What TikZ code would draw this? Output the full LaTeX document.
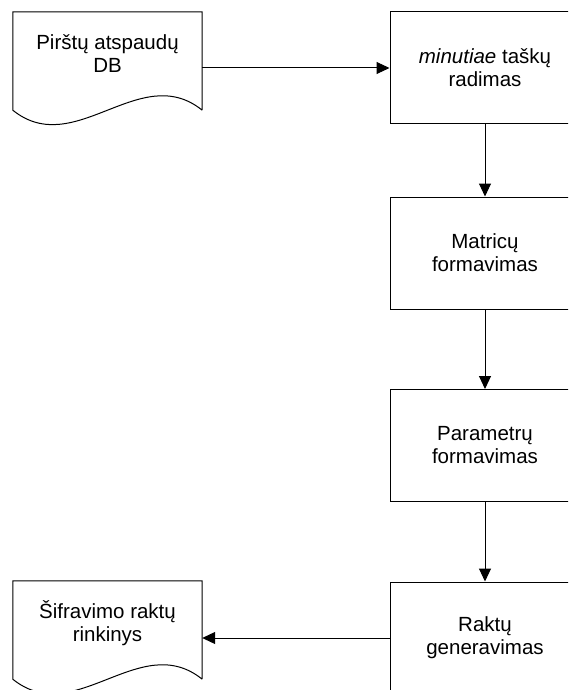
\documentclass[tikz,border=0pt]{standalone}
\usepackage{fontspec}
\setmainfont{Liberation Sans}
\usetikzlibrary{arrows.meta,calc}

\tikzset{
  every node/.style={font=\fontsize{20.5}{23}\selectfont, align=center},
  procbox/.style={draw=black, line width=1pt, minimum width=190pt, minimum height=112pt, inner sep=0pt},
  docbox/.style={minimum width=189pt, minimum height=84pt, inner sep=0pt},
  docline/.style={draw=black, line width=1pt, line join=miter},
  flow/.style={draw=black, line width=1pt, -{Triangle[length=13pt,width=12pt]}}
}

% document symbol: straight top and sides, wavy bottom edge
\newcommand\wavydoc[1]{%
  \draw[docline] ($(#1.south east)+(0,14)$) -- (#1.north east) -- (#1.north west)
    -- ($(#1.south west)+(0,14)$)
    .. controls +(62,50) and +(-62,-50) .. ($(#1.south east)+(0,14)$);}

\begin{document}
\begin{tikzpicture}[x=1pt,y=-1pt]
  \useasboundingbox (0,0) rectangle (568,690);
  \clip (0,0) rectangle (568,690);

  % input and output data sets
  \node[docbox] (db)   at (107.5,54)  {Pirštų atspaudų\\DB};
  \node[docbox] (keys) at (107.5,623) {Šifravimo raktų\\rinkinys};
  \wavydoc{db}
  \wavydoc{keys}

  % processing steps
  \node[procbox] (find)   at (485,68)    {\textit{minutiae} taškų\\radimas};
  \node[procbox] (matrix) at (485,253)   {Matricų\\formavimas};
  \node[procbox] (params) at (485,445.5) {Parametrų\\formavimas};
  \node[procbox] (gen)    at (485,638)   {Raktų\\generavimas};

  % data flow
  \draw[flow] (find.west -| db.east) -- (find.west);
  \draw[flow] (find) -- (matrix);
  \draw[flow] (matrix) -- (params);
  \draw[flow] (params) -- (gen);
  \draw[flow] (gen.west) -- (gen.west -| keys.east);
\end{tikzpicture}
\end{document}
